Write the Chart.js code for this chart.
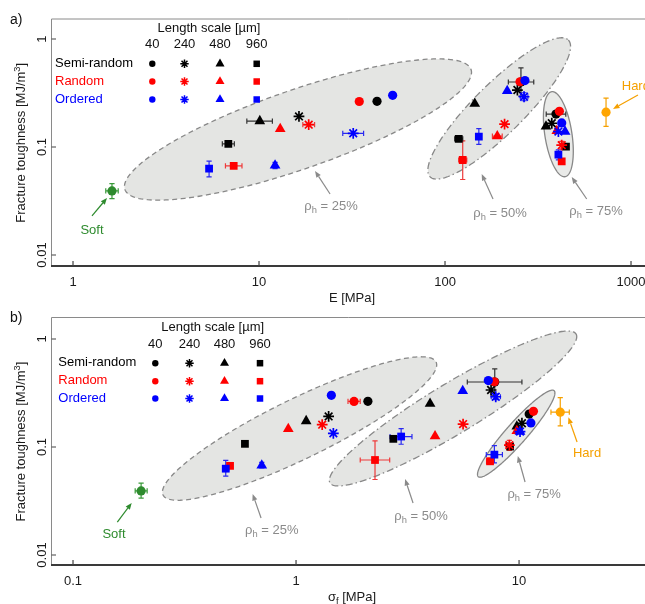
<!DOCTYPE html>
<html><head><meta charset="utf-8">
<script src="https://cdn.jsdelivr.net/npm/chart.js@4.4.1/dist/chart.umd.min.js"></script>
<style>
html,body{margin:0;padding:0;background:#fff;width:645px;height:604px;overflow:hidden}
#wrap{position:relative;width:645px;height:604px}
canvas{position:absolute;left:0}
#cA{top:0}
#cB{top:300px}
</style></head><body>
<div id="wrap"><canvas id="cA" width="645" height="310"></canvas><canvas id="cB" width="645" height="304"></canvas></div>
<script>
// ---------------- DATA ----------------
const porosity = ['25%', '50%', '75%'];
const lengthScales = ['40', '240', '480', '960'];
const arrangements = ['Semi-random', 'Random', 'Ordered'];

// rows: length scale 40, 240, 480, 960 ; columns: porosity 25%, 50%, 75%
// Young's modulus E [MPa]
const E_semiRandom = [[43.1, 256, 395], [16.4, 245, 375], [10.1, 144.5, 349], [6.84, 118.5, 447]];
const E_random     = [[34.6, 253, 412], [18.5, 209, 424], [13.0, 191, 399], [7.31, 124.5, 424]];
const E_ordered    = [[52.3, 269, 424], [32.1, 266, 407], [12.2, 216, 442], [5.39, 152, 407]];
// Flexural strength sigma_f [MPa]
const S_semiRandom = [[2.10, 7.78, 11.1], [1.40, 7.49, 10.3], [1.11, 3.99, 9.77], [0.590, 2.73, 9.11]];
const S_random     = [[1.82, 7.75, 11.6], [1.31, 5.61, 9.05], [0.923, 4.20, 9.77], [0.506, 2.26, 7.41]];
const S_ordered    = [[1.44, 7.28, 11.3], [1.47, 7.86, 10.1], [0.702, 5.59, 10.1], [0.484, 2.96, 7.75]];
// Fracture toughness [MJ/m^3]
const T_semiRandom = [[0.265, 0.400, 0.202], [0.192, 0.337, 0.166], [0.174, 0.252, 0.155], [0.107, 0.119, 0.101]];
const T_random     = [[0.264, 0.402, 0.214], [0.161, 0.163, 0.104], [0.147, 0.126, 0.141], [0.0669, 0.0758, 0.0737]];
const T_ordered    = [[0.301, 0.412, 0.167], [0.134, 0.292, 0.139], [0.0674, 0.331, 0.139], [0.063, 0.125, 0.085]];
// Bulk references
const softE = 1.62, softS = 0.202, softT = 0.0392;
const hardE = 734, hardS = 15.3, hardT = 0.210;

// error bars: [series, length scale, porosity index, [xLo, xHi] | null, [yLo, yHi] | null]
const errorsE = [
  ['Semi-random', '480', 0, [8.6, 11.8], null],
  ['Semi-random', '960', 0, [6.35, 7.37], null],
  ['Random', '960', 0, [6.6, 8.1], null],
  ['Random', '240', 0, [17.2, 19.9], null],
  ['Ordered', '240', 0, [28.2, 36.5], null],
  ['Ordered', '960', 0, null, [0.053, 0.074]],
  ['Ordered', '480', 0, null, [0.063, 0.072]],
  ['Semi-random', '40', 1, [219, 300], [0.296, 0.54]],
  ['Random', '960', 1, [118.4, 130.9], [0.050, 0.114]],
  ['Random', '480', 1, [179.8, 203], null],
  ['Semi-random', '960', 1, [112.7, 124.6], null],
  ['Ordered', '960', 1, null, [0.106, 0.148]],
  ['Ordered', '240', 1, [254, 279], [0.268, 0.318]],
  ['Semi-random', '40', 2, [350, 446], null],
  ['Ordered', '960', 2, null, [0.076, 0.094]],
  ['Random', '240', 2, null, [0.096, 0.113]],
  ['Soft', '', 0, [1.50, 1.75], [0.0333, 0.0458]],
  ['Hard', '', 0, [716, 753], [0.155, 0.283]]
];
const errorsS = [
  ['Ordered', '960', 0, [0.469, 0.499], [0.0537, 0.0751]],
  ['Random', '40', 0, [1.71, 1.94], null],
  ['Ordered', '480', 0, null, [0.064, 0.072]],
  ['Semi-random', '40', 1, [5.86, 10.3], [0.30, 0.53]],
  ['Random', '960', 1, [1.94, 2.63], [0.050, 0.114]],
  ['Ordered', '960', 1, [2.64, 3.31], [0.106, 0.148]],
  ['Ordered', '240', 1, [7.5, 8.25], [0.275, 0.31]],
  ['Ordered', '960', 2, [7.13, 8.42], [0.0713, 0.103]],
  ['Random', '960', 2, [7.15, 7.68], [0.069, 0.079]],
  ['Random', '240', 2, [8.7, 9.4], [0.093, 0.115]],
  ['Soft', '', 0, [0.190, 0.215], [0.0336, 0.0462]],
  ['Hard', '', 0, [13.9, 16.8], [0.157, 0.286]]
];

// porosity envelopes: centre, end of one semi-axis, end of the other (data coordinates)
const envelopesE = [
  { name: '25%', c: [16.2, 0.1452], a: [138, 0.522], b: [19.04, 0.0656], dash: [5, 3.5] },
  { name: '50%', c: [195.6, 0.2277], a: [460.2, 0.979], b: [243.5, 0.1562], dash: [7, 3, 1.5, 3] },
  { name: '75%', c: [406.8, 0.1314], a: [441.8, 0.0531], b: [480, 0.1374], dash: [] }
];
const envelopesS = [
  { name: '25%', c: [1.037, 0.1483], a: [4.245, 0.612], b: [1.187, 0.0834], dash: [5, 3.5] },
  { name: '50%', c: [5.058, 0.2273], a: [18.01, 1.112], b: [5.786, 0.1440], dash: [7, 3, 1.5, 3] },
  { name: '75%', c: [9.710, 0.1328], a: [14.36, 0.3321], b: [10.53, 0.1147], dash: [] }
];

// annotations: label, label anchor, arrow tail, arrow head (data coordinates)
const notesE = [
  { kind: 'rho', text: '25%', at: [24.4, 0.0290], tail: [24.1, 0.0367], head: [20.0, 0.060] },
  { kind: 'rho', text: '50%', at: [197.6, 0.0250], tail: [181.2, 0.033], head: [157.5, 0.0562] },
  { kind: 'rho', text: '75%', at: [648.6, 0.0261], tail: [577.9, 0.033], head: [480, 0.0527] },
  { kind: 'soft', text: 'Soft', at: [1.265, 0.0174], tail: [1.265, 0.0230], head: [1.523, 0.0337] },
  { kind: 'hard', text: 'Hard', at: [891.6, 0.375], tail: [1090, 0.303], head: [800, 0.225], left: true }
];
const notesS = [
  { kind: 'rho', text: '25%', at: [0.778, 0.0174], tail: [0.697, 0.0220], head: [0.639, 0.0367] },
  { kind: 'rho', text: '50%', at: [3.636, 0.02346], tail: [3.347, 0.0303], head: [3.083, 0.0505] },
  { kind: 'rho', text: '75%', at: [11.68, 0.0375], tail: [10.64, 0.0474], head: [9.87, 0.0826] },
  { kind: 'soft', text: 'Soft', at: [0.1527, 0.0160], tail: [0.158, 0.0202], head: [0.1833, 0.0303] },
  { kind: 'hard', text: 'Hard', at: [20.18, 0.0899], tail: [18.2, 0.1112], head: [16.64, 0.1884] }
];

const yTicks = [1, 0.1, 0.01];
const yTickLabels = ['1', '0.1', '0.01'];
const xTicksE = [1, 10, 100, 1000];
const xTickLabelsE = ['1', '10', '100', '1000'];
const xTicksS = [0.1, 1, 10];
const xTickLabelsS = ['0.1', '1', '10'];

// ---------------- STYLE ----------------
const FAM = '"Liberation Sans", Arial, Helvetica, sans-serif';
const FS = 13;
const serColors = ['#000000', '#ff0000', '#0000ff'];
const errColors = { 'Semi-random': '#333333', 'Random': '#ee3a3a', 'Ordered': '#2a2af0', 'Soft': '#3a9a3a', 'Hard': '#f5a000' };
const markerStyles = ['circle', 'star', 'triangle', 'rect'];
const markerRadius = [4.6, 5.4, 6.2, 5.5];
const legendRadius = [3.2, 4.2, 5.2, 4.6];
const noteColors = { rho: '#8a8a8a', soft: '#2e8b2e', hard: '#f5a000' };
Chart.defaults.font.family = FAM;

const TOUGH = [T_semiRandom, T_random, T_ordered];

function setFont(ctx, size) { ctx.font = size + 'px ' + FAM; }
function richWidth(ctx, parts) {
  let w = 0;
  parts.forEach(p => { setFont(ctx, p.sub || p.sup ? FS * 0.72 : FS); w += ctx.measureText(p.t).width; });
  return w;
}
function drawRich(ctx, parts, x, y, align) {
  const w = richWidth(ctx, parts);
  let cx = align === 'center' ? x - w / 2 : (align === 'right' ? x - w : x);
  ctx.textAlign = 'left'; ctx.textBaseline = 'alphabetic';
  parts.forEach(p => {
    const s = p.sub || p.sup ? FS * 0.72 : FS;
    setFont(ctx, s);
    const dy = p.sub ? 3 : (p.sup ? -5 : 0);
    ctx.fillText(p.t, cx, y + dy);
    cx += ctx.measureText(p.t).width;
  });
}
function drawMarker(ctx, style, x, y, r, color) {
  ctx.fillStyle = color; ctx.strokeStyle = color; ctx.lineWidth = 1.5;
  ctx.beginPath();
  if (style === 'circle') { ctx.arc(x, y, r, 0, Math.PI * 2); ctx.fill(); }
  else if (style === 'rect') { const s = r * Math.SQRT1_2; ctx.rect(x - s, y - s, 2 * s, 2 * s); ctx.fill(); }
  else if (style === 'triangle') {
    for (let k = 0; k < 3; k++) { const a = k * 2 * Math.PI / 3; const px = x + Math.sin(a) * r, py = y - Math.cos(a) * r; k ? ctx.lineTo(px, py) : ctx.moveTo(px, py); }
    ctx.closePath(); ctx.fill();
  } else {
    for (let k = 0; k < 4; k++) { const a = k * Math.PI / 4; ctx.moveTo(x - Math.cos(a) * r, y - Math.sin(a) * r); ctx.lineTo(x + Math.cos(a) * r, y + Math.sin(a) * r); }
    ctx.stroke();
  }
}
function arrow(ctx, x1, y1, x2, y2, color) {
  ctx.strokeStyle = color; ctx.fillStyle = color; ctx.lineWidth = 1.2;
  const ang = Math.atan2(y2 - y1, x2 - x1), L = 6.5, W = 2.6;
  const bx = x2 - Math.cos(ang) * L, by = y2 - Math.sin(ang) * L;
  ctx.beginPath(); ctx.moveTo(x1, y1); ctx.lineTo(bx, by); ctx.stroke();
  ctx.beginPath(); ctx.moveTo(x2, y2);
  ctx.lineTo(bx + Math.sin(ang) * W, by - Math.cos(ang) * W);
  ctx.lineTo(bx - Math.sin(ang) * W, by + Math.cos(ang) * W);
  ctx.closePath(); ctx.fill();
}

function makePanel(canvasId, P) {
  const XS = P.xData;
  const datasets = [];
  arrangements.forEach((arr, ai) => {
    lengthScales.forEach((L, li) => {
      datasets.push({
        label: arr + ' ' + L + ' µm',
        data: porosity.map((p, pi) => ({ x: XS[ai][li][pi], y: TOUGH[ai][li][pi] })),
        pointStyle: markerStyles[li],
        pointRadius: markerRadius[li],
        backgroundColor: serColors[ai],
        borderColor: serColors[ai],
        borderWidth: li === 1 ? 1.7 : 0,
        order: 3 - ai
      });
    });
  });
  datasets.push({ label: 'Soft', data: [{ x: P.soft, y: softT }], pointStyle: 'circle', pointRadius: 4.6, backgroundColor: '#2e8b2e', borderWidth: 0, order: 0 });
  datasets.push({ label: 'Hard', data: [{ x: P.hard, y: hardT }], pointStyle: 'circle', pointRadius: 4.6, backgroundColor: '#ffa500', borderWidth: 0, order: 0 });

  const centre = (e) => {
    if (e[0] === 'Soft') return [P.soft, softT];
    if (e[0] === 'Hard') return [P.hard, hardT];
    const ai = arrangements.indexOf(e[0]), li = lengthScales.indexOf(e[1]);
    return [XS[ai][li][e[2]], TOUGH[ai][li][e[2]]];
  };

  const plugin = {
    id: 'panel_' + canvasId,
    beforeDatasetsDraw(chart) {
      const ctx = chart.ctx, sx = chart.scales.x, sy = chart.scales.y;
      P.envelopes.forEach(en => {
        const cx = sx.getPixelForValue(en.c[0]), cy = sy.getPixelForValue(en.c[1]);
        const ax = sx.getPixelForValue(en.a[0]) - cx, ay = sy.getPixelForValue(en.a[1]) - cy;
        const bx = sx.getPixelForValue(en.b[0]) - cx, by = sy.getPixelForValue(en.b[1]) - cy;
        ctx.save();
        ctx.beginPath();
        for (let i = 0; i <= 240; i++) {
          const t = i / 240 * Math.PI * 2;
          const x = cx + ax * Math.cos(t) + bx * Math.sin(t), y = cy + ay * Math.cos(t) + by * Math.sin(t);
          i ? ctx.lineTo(x, y) : ctx.moveTo(x, y);
        }
        ctx.closePath();
        ctx.fillStyle = en.name === '75%' ? '#e9eae8' : '#e4e5e3';
        ctx.fill();
        ctx.setLineDash(en.dash); ctx.strokeStyle = '#888888'; ctx.lineWidth = 1.3;
        ctx.stroke();
        ctx.restore();
      });
      ctx.save();
      P.errors.forEach(e => {
        const c = centre(e);
        const x = sx.getPixelForValue(c[0]), y = sy.getPixelForValue(c[1]);
        ctx.strokeStyle = errColors[e[0]]; ctx.lineWidth = 1.2;
        ctx.beginPath();
        if (e[3]) {
          const x1 = sx.getPixelForValue(e[3][0]), x2 = sx.getPixelForValue(e[3][1]);
          ctx.moveTo(x1, y); ctx.lineTo(x2, y);
          ctx.moveTo(x1, y - 2.6); ctx.lineTo(x1, y + 2.6);
          ctx.moveTo(x2, y - 2.6); ctx.lineTo(x2, y + 2.6);
        }
        if (e[4]) {
          const y1 = sy.getPixelForValue(e[4][0]), y2 = sy.getPixelForValue(e[4][1]);
          ctx.moveTo(x, y1); ctx.lineTo(x, y2);
          ctx.moveTo(x - 2.6, y1); ctx.lineTo(x + 2.6, y1);
          ctx.moveTo(x - 2.6, y2); ctx.lineTo(x + 2.6, y2);
        }
        ctx.stroke();
      });
      ctx.restore();
    },
    afterDatasetsDraw(chart) {
      const ctx = chart.ctx, sx = chart.scales.x, sy = chart.scales.y, A = chart.chartArea;
      ctx.save();
      ctx.strokeStyle = '#8a8a8a'; ctx.lineWidth = 1;
      ctx.beginPath();
      ctx.moveTo(A.left - 0.5, A.bottom); ctx.lineTo(A.left - 0.5, A.top - 0.5); ctx.lineTo(A.right, A.top - 0.5);
      ctx.stroke();
      ctx.strokeStyle = '#3a3a3a'; ctx.lineWidth = 2.2;
      ctx.beginPath(); ctx.moveTo(A.left - 1, A.bottom); ctx.lineTo(A.right, A.bottom); ctx.stroke();
      ctx.strokeStyle = '#444'; ctx.lineWidth = 1.2;
      ctx.beginPath();
      P.xTicks.forEach(v => { const x = sx.getPixelForValue(v); ctx.moveTo(x, A.bottom); ctx.lineTo(x, A.bottom - 5); });
      yTicks.forEach(v => { const y = sy.getPixelForValue(v); ctx.moveTo(A.left - 0.5, y); ctx.lineTo(A.left + 4, y); });
      ctx.stroke();
      ctx.fillStyle = '#1a1a1a';
      setFont(ctx, FS); ctx.textAlign = 'center'; ctx.textBaseline = 'alphabetic';
      P.xTicks.forEach((v, i) => { ctx.fillText(P.xTickLabels[i], sx.getPixelForValue(v), A.bottom + 19.5); });
      yTicks.forEach((v, i) => {
        const y = sy.getPixelForValue(v);
        ctx.save(); ctx.translate(45.6, y); ctx.rotate(-Math.PI / 2);
        ctx.fillText(yTickLabels[i], 0, 0); ctx.restore();
      });
      drawRich(ctx, P.xTitle, 352, A.bottom + 36, 'center');
      ctx.save(); ctx.translate(24.5, (A.top + A.bottom) / 2); ctx.rotate(-Math.PI / 2);
      drawRich(ctx, [{ t: 'Fracture toughness [MJ/m' }, { t: '3', sup: true }, { t: ']' }], 0, 0, 'center');
      ctx.restore();
      setFont(ctx, 14); ctx.textAlign = 'left'; ctx.textBaseline = 'middle'; ctx.fillStyle = '#111';
      ctx.fillText(P.letter, 10, P.letterY);
      const G = P.legend;
      setFont(ctx, FS); ctx.textBaseline = 'middle'; ctx.fillStyle = '#111';
      ctx.textAlign = 'center';
      ctx.fillText('Length scale [µm]', G.titleX, G.titleY);
      lengthScales.forEach((L, li) => ctx.fillText(L, G.cols[li], G.headY));
      arrangements.forEach((arr, ai) => {
        ctx.textAlign = 'left'; ctx.fillStyle = serColors[ai]; setFont(ctx, FS);
        ctx.fillText(arr, G.labelX, G.rows[ai]);
        lengthScales.forEach((L, li) => drawMarker(ctx, markerStyles[li], G.cols[li], G.rows[ai] + 0.5, legendRadius[li], serColors[ai]));
      });
      P.notes.forEach(n => {
        const col = noteColors[n.kind];
        const tx = sx.getPixelForValue(n.tail[0]), ty = sy.getPixelForValue(n.tail[1]);
        const hx = sx.getPixelForValue(n.head[0]), hy = sy.getPixelForValue(n.head[1]);
        arrow(ctx, tx, ty, hx, hy, col);
        const ax = sx.getPixelForValue(n.at[0]), ay = sy.getPixelForValue(n.at[1]);
        ctx.fillStyle = col;
        const parts = n.kind === 'rho' ? [{ t: 'ρ' }, { t: 'h', sub: true }, { t: ' = ' + n.text }] : [{ t: n.text }];
        drawRich(ctx, parts, ax, ay + 4.6, n.left ? 'left' : 'center');
      });
      ctx.restore();
    }
  };

  return new Chart(document.getElementById(canvasId), {
    type: 'scatter',
    data: { datasets },
    options: {
      responsive: false,
      animation: false,
      events: [],
      layout: { padding: P.padding, autoPadding: false },
      plugins: { legend: { display: false }, tooltip: { enabled: false } },
      scales: {
        x: { type: 'logarithmic', min: P.xMin, max: P.xMax, grid: { display: false }, border: { display: false }, ticks: { display: false }, afterFit: s => { s.height = 0; } },
        y: { type: 'logarithmic', min: P.yMin, max: P.yMax, grid: { display: false }, border: { display: false }, ticks: { display: false }, afterFit: s => { s.width = 0; } }
      }
    },
    plugins: [plugin]
  });
}

makePanel('cA', {
  xData: [E_semiRandom, E_random, E_ordered], soft: softE, hard: hardE,
  xMin: 0.771, xMax: 1189, yMin: 0.00791, yMax: 1.516,
  padding: { left: 52, right: 0, top: 19.5, bottom: 44 },
  xTicks: xTicksE, xTickLabels: xTickLabelsE,
  xTitle: [{ t: 'E [MPa]' }],
  errors: errorsE, envelopes: envelopesE, notes: notesE,
  letter: 'a)', letterY: 20,
  legend: { titleX: 209, titleY: 28, headY: 44.5, cols: [152.3, 184.5, 220, 256.7], rows: [63.3, 81, 99], labelX: 55 }
});
makePanel('cB', {
  xData: [S_semiRandom, S_random, S_ordered], soft: softS, hard: hardS,
  xMin: 0.0805, xMax: 36.7, yMin: 0.00808, yMax: 1.565,
  padding: { left: 52, right: 0, top: 18, bottom: 39 },
  xTicks: xTicksS, xTickLabels: xTickLabelsS,
  xTitle: [{ t: 'σ' }, { t: 'f', sub: true }, { t: ' [MPa]' }],
  errors: errorsS, envelopes: envelopesS, notes: notesS,
  letter: 'b)', letterY: 18,
  legend: { titleX: 212.7, titleY: 27.3, headY: 44.3, cols: [155.3, 189.5, 224.5, 260], rows: [62.7, 80.7, 98], labelX: 58.3 }
});
</script>
</body></html>
